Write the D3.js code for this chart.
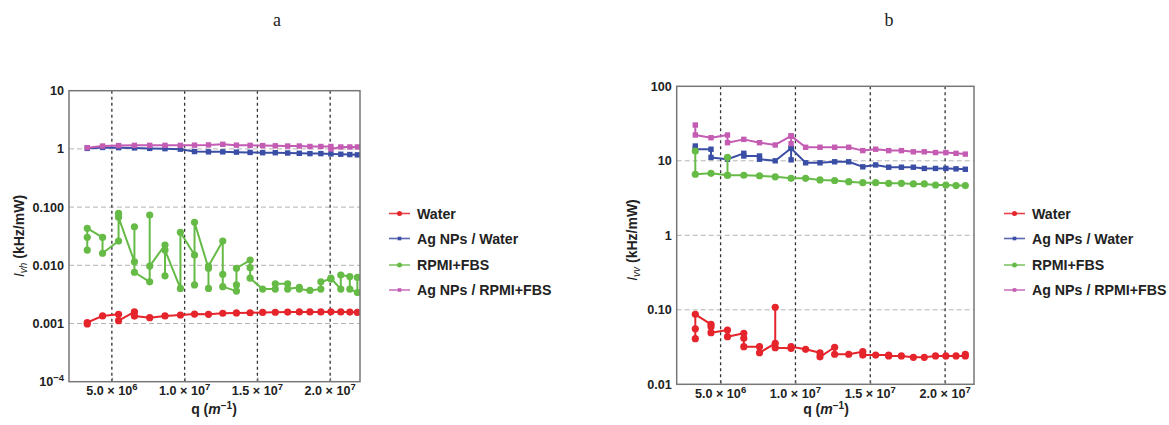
<!DOCTYPE html>
<html>
<head>
<meta charset="utf-8">
<script src="https://cdn.jsdelivr.net/npm/d3@7"></script>
<style>
  body { margin: 0; background: #fff; }
  svg { display: block; }
  .tick-label { font-family: "Liberation Sans", Arial, sans-serif; font-weight: bold; font-size: 12.6px; fill: #222; }
  .axis-title { font-family: "Liberation Sans", Arial, sans-serif; font-weight: bold; font-size: 14px; fill: #222; }
  .legend-text { font-family: "Liberation Sans", Arial, sans-serif; font-weight: bold; font-size: 14.2px; fill: #222; }
  .panel-title { font-family: "Liberation Serif", "DejaVu Serif", serif; font-size: 18px; fill: #222; }
</style>
</head>
<body>
<svg width="1169" height="425" viewBox="0 0 1169 425"></svg>
<script>
// scattering vector for each detection angle (m^-1)
const q_values = [3.31e6, 4.36e6, 5.46e6, 6.55e6, 7.60e6, 8.65e6, 9.71e6, 1.068e7, 1.164e7, 1.262e7, 1.356e7,
    1.450e7, 1.536e7, 1.623e7, 1.708e7, 1.788e7, 1.861e7, 1.936e7, 2.005e7, 2.073e7, 2.135e7, 2.187e7];

const series_names = ["Water", "Ag NPs / Water", "RPMI+FBS", "Ag NPs / RPMI+FBS"];

// panel a : I_vh, repeated measurements at one angle are kept in small arrays (in drawing order)
const ivh_water = [[0.00098, 0.00104], 0.00135, [0.00144, 0.00112], [0.00158, 0.00134], 0.00126, 0.00135, 0.0014,
    0.00145, 0.00144, 0.0015, 0.00152, 0.00153, 0.00155, 0.00156, 0.00157, 0.00158, 0.00158, 0.00158, 0.00159,
    0.00158, 0.00157, 0.00155];
const ivh_agnp_water = [1.02, 1.06, 1.05, 1.04, 1.02, 1.01, 0.99, 0.90, 0.89, 0.89, 0.88, 0.87, 0.86, 0.86, 0.85,
    0.84, 0.83, 0.83, 0.82, 0.81, 0.80, 0.79];
const ivh_rpmi = [[0.0183, 0.0303, 0.0432], [0.0303, 0.0161], [0.0261, 0.078, 0.0668], [0.0115, 0.046, 0.0076],
    [0.0052, 0.0731, 0.0097], [0.0223, 0.0066, 0.0183], [0.0040, 0.0369], [0.0150, 0.0046, 0.0547],
    [0.0089, 0.0040, 0.0097], [0.0261, 0.0070, 0.0043], [0.0036, 0.0046, 0.0089], [0.0123, 0.0091, 0.0060],
    0.0039, [0.0039, 0.0048], [0.0048, 0.0039], [0.0042, 0.0039], 0.0037, [0.0039, 0.0052], [0.0058, 0.0060],
    [0.0039, 0.0068], [0.0064, 0.0039], [0.0034, 0.0062]];
const ivh_agnp_rpmi = [1.05, 1.12, 1.14, 1.15, 1.15, 1.15, 1.15, 1.16, 1.17, 1.2, 1.16, 1.15, 1.14, 1.13, 1.12,
    1.12, 1.1, 1.1, [1.1, 1.0], 1.08, 1.08, 1.08];

// panel b : I_vv
const ivv_water = [[0.041, 0.0557, 0.087], [0.0638, 0.059, 0.0493], [0.0535, 0.0436], [0.0484, 0.0415, 0.032],
    [0.032, 0.0265], [0.0355, 0.108, 0.031], [0.0304, 0.032], 0.0295, [0.0265, 0.0234], [0.0314, 0.0253], 0.0253,
    [0.0274, 0.0247], 0.0247, [0.0247, 0.0240], 0.0240, 0.0230, 0.0230, 0.0240, 0.0240, 0.0240, [0.0240, 0.0253]];
const ivv_agnp_water = [[15.8, 14.3], [14.3, 11.1], 10.5, [12.6, 11.6], [11.6, 10.5], 10.0, [14.7, 10.3, 14.7], 9.4,
    9.4, 9.7, 9.7, 8.3, 8.8, 8.2, 8.2, 8.2, 7.9, 7.9, 7.9, 7.8, 7.7];
const ivv_rpmi = [[13.5, 6.6], 6.8, [6.4, 11.1, 6.4], 6.4, 6.3, 6.1, 5.82, 5.82, 5.53, 5.44, 5.25, 5.09, 5.09, 4.99,
    4.99, 4.89, 4.89, 4.73, 4.73, 4.65, 4.65];
const ivv_agnp_rpmi = [[30.2, 22.2], 20.4, [22.2, 17.5], 19.4, 17.5, 16.3, [21.6, 17.0, 21.6], 15.2, 15.2, 15.2,
    15.2, 13.7, 14.3, 13.7, 13.7, 13.2, 13.2, 12.9, 12.9, 12.6, 12.3];

const x_ticks = [5e6, 1e7, 1.5e7, 2e7];
const x_tick_labels = [["5.0", "6"], ["1.0", "7"], ["1.5", "7"], ["2.0", "7"]];

const colors = ["#e5242b", "#3b4ea6", "#66bb47", "#c45cb4"];
const shapes = ["circle", "square", "circle", "square"];

const panels = [
    {
        title: "a", sub: "vh",
        left: 69, right: 360, top: 90.7, bottom: 381.7,
        qDomain: [2.055e6, 2.205e7], yDomain: [1e-4, 10],
        yTicks: [10, 1, 0.1, 0.01, 0.001, 1e-4],
        yTickLabels: ["10", "1", "0.100", "0.010", "0.001", "10|−4"],
        series: [ivh_water, ivh_agnp_water, ivh_rpmi, ivh_agnp_rpmi],
        labelX: 19, labelY: 236, xLabelX: 214, legendX: 389, titleX: 277
    },
    {
        title: "b", sub: "vv",
        left: 676.7, right: 974, top: 86.3, bottom: 384.3,
        qDomain: [2.067e6, 2.193e7], yDomain: [0.01, 100],
        yTicks: [100, 10, 1, 0.1, 0.01],
        yTickLabels: ["100", "10", "1", "0.10", "0.01"],
        series: [ivv_water, ivv_agnp_water, ivv_rpmi, ivv_agnp_rpmi],
        labelX: 632, labelY: 240, xLabelX: 826, legendX: 1004, titleX: 889
    }
];

const svg = d3.select("svg");

function flatten(vals) {
    const pts = [];
    vals.forEach((v, i) => {
        (Array.isArray(v) ? v : [v]).forEach(val => pts.push({q: q_values[i], v: val}));
    });
    return pts;
}

function drawPanel(p) {
    const g = svg.append("g");
    const x = d3.scaleLinear().domain(p.qDomain).range([p.left, p.right]);
    const y = d3.scaleLog().domain(p.yDomain).range([p.bottom, p.top]);

    svg.append("text").attr("class", "panel-title")
        .attr("x", p.titleX).attr("y", 26).attr("text-anchor", "middle").text(p.title);

    // grid
    g.append("g").selectAll("line").data(p.yTicks.filter(t => t !== p.yDomain[0] && t !== p.yDomain[1]))
        .join("line")
        .attr("x1", p.left).attr("x2", p.right)
        .attr("y1", d => y(d)).attr("y2", d => y(d))
        .attr("stroke", "#b4b4b4").attr("stroke-width", 1).attr("stroke-dasharray", "5,3");
    g.append("g").selectAll("line").data(x_ticks)
        .join("line")
        .attr("x1", d => x(d)).attr("x2", d => x(d))
        .attr("y1", p.top).attr("y2", p.bottom)
        .attr("stroke", "#333").attr("stroke-width", 1.3).attr("stroke-dasharray", "3,3");

    // frame ticks
    const xAxis = g.append("g").attr("transform", `translate(0,${p.bottom})`)
        .call(d3.axisBottom(x).tickValues(x_ticks).tickSizeInner(-4).tickSizeOuter(0).tickFormat(""));
    xAxis.select(".domain").remove();
    xAxis.selectAll("line").attr("stroke", "#777");

    // data
    const clipId = "clip-" + p.title;
    svg.append("clipPath").attr("id", clipId).append("rect")
        .attr("x", p.left).attr("y", p.top).attr("width", p.right - p.left).attr("height", p.bottom - p.top);
    const plot = g.append("g").attr("clip-path", `url(#${clipId})`);
    const line = d3.line().x(d => x(d.q)).y(d => y(d.v));

    p.series.forEach((vals, si) => {
        const pts = flatten(vals);
        plot.append("path").datum(pts)
            .attr("d", line).attr("fill", "none")
            .attr("stroke", colors[si]).attr("stroke-width", 2).attr("stroke-linejoin", "round");
        if (shapes[si] === "circle") {
            plot.append("g").selectAll("circle").data(pts).join("circle")
                .attr("cx", d => x(d.q)).attr("cy", d => y(d.v)).attr("r", 3.6)
                .attr("fill", colors[si]);
        } else {
            plot.append("g").selectAll("rect").data(pts).join("rect")
                .attr("x", d => x(d.q) - 2.7).attr("y", d => y(d.v) - 2.7)
                .attr("width", 5.4).attr("height", 5.4)
                .attr("fill", colors[si]);
        }
    });

    // frame
    g.append("rect")
        .attr("x", p.left).attr("y", p.top).attr("width", p.right - p.left).attr("height", p.bottom - p.top)
        .attr("fill", "none").attr("stroke", "#777").attr("stroke-width", 1.5);

    // y tick labels
    p.yTicks.forEach((t, i) => {
        const parts = p.yTickLabels[i].split("|");
        const txt = g.append("text").attr("class", "tick-label")
            .attr("x", p.left - 5).attr("y", y(t) + 4.5).attr("text-anchor", "end");
        txt.append("tspan").text(parts[0]);
        if (parts[1]) txt.append("tspan").attr("dy", -5).style("font-size", "9.5px").text(parts[1]);
    });

    // x tick labels
    x_ticks.forEach((t, i) => {
        const txt = g.append("text").attr("class", "tick-label")
            .attr("x", x(t)).attr("y", p.bottom + 13.5).attr("text-anchor", "middle");
        txt.append("tspan").text(x_tick_labels[i][0] + " × 10");
        txt.append("tspan").attr("dy", -5).style("font-size", "9.5px").text(x_tick_labels[i][1]);
    });

    // axis titles
    const xl = g.append("text").attr("class", "axis-title")
        .attr("x", p.xLabelX).attr("y", 414).attr("text-anchor", "middle");
    xl.append("tspan").text("q (");
    xl.append("tspan").style("font-style", "italic").text("m");
    xl.append("tspan").attr("dy", -5).style("font-size", "10px").text("−1");
    xl.append("tspan").attr("dy", 5).text(")");

    const yl = g.append("text").attr("class", "axis-title")
        .attr("transform", `translate(${p.labelX + 5},${p.labelY}) rotate(-90)`)
        .attr("text-anchor", "middle");
    yl.append("tspan").style("font-style", "italic").style("font-weight", "normal").text("I");
    yl.append("tspan").attr("dy", 3).style("font-style", "italic").style("font-weight", "normal")
        .style("font-size", "10px").text(p.sub);
    yl.append("tspan").attr("dy", -3).text(" (kHz/mW)");

    // legend
    const lg = g.append("g").attr("transform", `translate(${p.legendX},0)`);
    series_names.forEach((name, si) => {
        const ly = [213.5, 238.5, 265, 290][si];
        lg.append("line").attr("x1", 0).attr("x2", 21).attr("y1", ly).attr("y2", ly)
            .attr("stroke", colors[si]).attr("stroke-width", 1.6).attr("opacity", 0.85);
        if (shapes[si] === "circle") {
            lg.append("circle").attr("cx", 10.5).attr("cy", ly).attr("r", 2.5).attr("fill", colors[si]);
        } else {
            lg.append("rect").attr("x", 8.7).attr("y", ly - 1.8).attr("width", 3.6).attr("height", 3.6)
                .attr("fill", colors[si]);
        }
        lg.append("text").attr("class", "legend-text").attr("x", 28).attr("y", ly + 5).text(name);
    });
}

panels.forEach(drawPanel);
</script>
</body>
</html>
